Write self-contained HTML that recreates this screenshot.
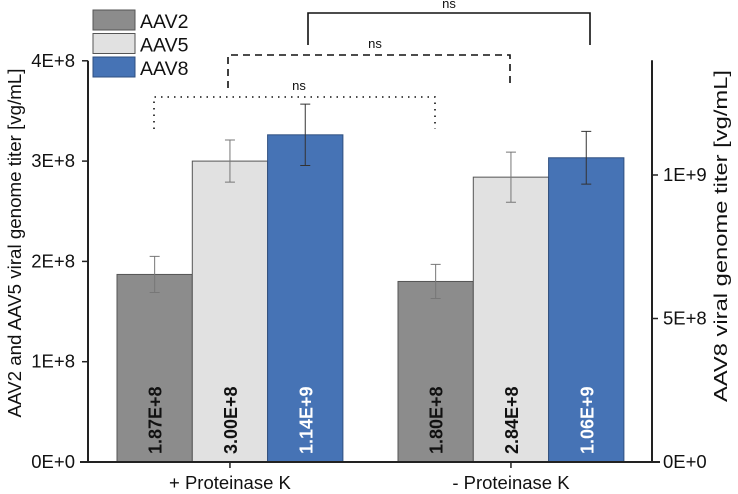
<!DOCTYPE html>
<html><head><meta charset="utf-8"><style>
body{margin:0;background:#fff}
svg{display:block;font-family:"Liberation Sans",sans-serif}
</style></head><body>
<svg id="c" width="738" height="494"></svg>
<script>
const groups=["+ Proteinase K","- Proteinase K"];
const series=["AAV2","AAV5","AAV8"];
const aav2=[1.87e8,1.80e8];
const aav5=[3.00e8,2.84e8];
const aav8=[1.14e9,1.06e9];
const err2=[0.18e8,0.17e8];
const err5=[0.21e8,0.25e8];
const err8=[0.107e9,0.092e9];
const labels2=["1.87E+8","1.80E+8"];
const labels5=["3.00E+8","2.84E+8"];
const labels8=["1.14E+9","1.06E+9"];
const leftTicks=[0,1e8,2e8,3e8,4e8];
const leftTickLabels=["0E+0","1E+8","2E+8","3E+8","4E+8"];
const rightTicks=[0,5e8,1e9];
const rightTickLabels=["0E+0","5E+8","1E+9"];
const colors=["#8c8c8c","#e1e1e1","#4673b5"];
const NS="http://www.w3.org/2000/svg";
const svg=document.getElementById('c');
const y0=462;
const yL=v=>y0-v*100.3/1e8;
const yR=v=>y0-v*287/1e9;
const groupX=[117,398];
const bw=75.3;
function el(t,a,p){const e=document.createElementNS(NS,t);for(const k in a)e.setAttribute(k,a[k]);(p||svg).appendChild(e);return e;}
const vals=[aav2,aav5,aav8],errs=[err2,err5,err8],labs=[labels2,labels5,labels8],scales=[yL,yL,yR];
for(let g=0;g<2;g++){for(let s=0;s<3;s++){
 const sc=scales[s];const x=groupX[g]+s*bw;const top=sc(vals[s][g]);
 const r=el('rect',{x:x,y:top,width:bw,height:y0-top,fill:colors[s],stroke:s==2?'#2f4f80':'#555','stroke-width':1});
 
 
 const cx=x+bw/2,e1=sc(vals[s][g]+errs[s][g]),e2=sc(vals[s][g]-errs[s][g]);
 const eb=el('path',{d:`M${cx},${e1}V${e2}M${cx-5},${e1}H${cx+5}M${cx-5},${e2}H${cx+5}`,stroke:s==2?'#333':'#777','stroke-width':1,fill:'none'});
 
 
 const t=el('text',{x:0,y:0,transform:`translate(${cx+7},${y0-8}) rotate(-90)`,'font-size':18,'font-weight':'bold',fill:s==2?'#fff':'#111'});
 t.textContent=labs[s][g];
 
 
}}
el('path',{d:`M88,${yL(4e8)}V${y0}M80,${y0}H660M652,${yR(1.4e9)}V${y0}`,stroke:'#222','stroke-width':2,fill:'none'});
for(let i=0;i<leftTicks.length;i++){const y=yL(leftTicks[i]);el('path',{d:`M82,${y}H88`,stroke:'#222','stroke-width':1.5});
 const t=el('text',{x:75,y:y+6,'text-anchor':'end','font-size':18.5,fill:'#111'});t.textContent=leftTickLabels[i];
 }
for(let i=0;i<rightTicks.length;i++){const y=yR(rightTicks[i]);el('path',{d:`M652,${y}H658`,stroke:'#222','stroke-width':1.5});
 const t=el('text',{x:663,y:y+6,'font-size':18.5,fill:'#111'});t.textContent=rightTickLabels[i];
 }
for(let g=0;g<2;g++){const cx=groupX[g]+1.5*bw;el('path',{d:`M${cx},${y0}V${y0+6}`,stroke:'#222','stroke-width':1.5});
 const t=el('text',{x:cx,y:489,'text-anchor':'middle','font-size':18.5,fill:'#111'});t.textContent=groups[g];
 }
let t=el('text',{transform:'translate(21,243) rotate(-90)','text-anchor':'middle','font-size':18.5,fill:'#111',textLength:349,lengthAdjust:'spacingAndGlyphs'});t.textContent='AAV2 and AAV5 viral genome titer [vg/mL]';

t=el('text',{transform:'translate(727,236) rotate(-90)','text-anchor':'middle','font-size':18.5,fill:'#111',textLength:332,lengthAdjust:'spacingAndGlyphs'});t.textContent='AAV8 viral genome titer [vg/mL]';

function br(x1,x2,y,yb,dash,ny,nx,name){const p=el('path',{d:`M${x1},${yb}V${y}H${x2}V${yb}`,stroke:'#111','stroke-width':1.6,fill:'none','stroke-dasharray':dash});
 
 const tt=el('text',{x:nx,y:ny,'text-anchor':'middle','font-size':13,fill:'#111'});tt.textContent='ns';
 }
br(154,435,97,129,'1.5,5',90,299,'significance-bracket-aav2');
br(228,510,55,88,'7,5',48,375,'significance-bracket-aav5');
br(308,590,13,45,'',8,449,'significance-bracket-aav8');
for(let s=0;s<3;s++){const y=10+s*23.5;
 const r=el('rect',{x:93,y:y,width:42,height:20,fill:colors[s],stroke:s==2?'#2f4f80':'#555'});
 
 const tt=el('text',{x:140,y:y+18,'font-size':19.5,fill:'#111'});tt.textContent=series[s];
 }
</script>
</body></html>
